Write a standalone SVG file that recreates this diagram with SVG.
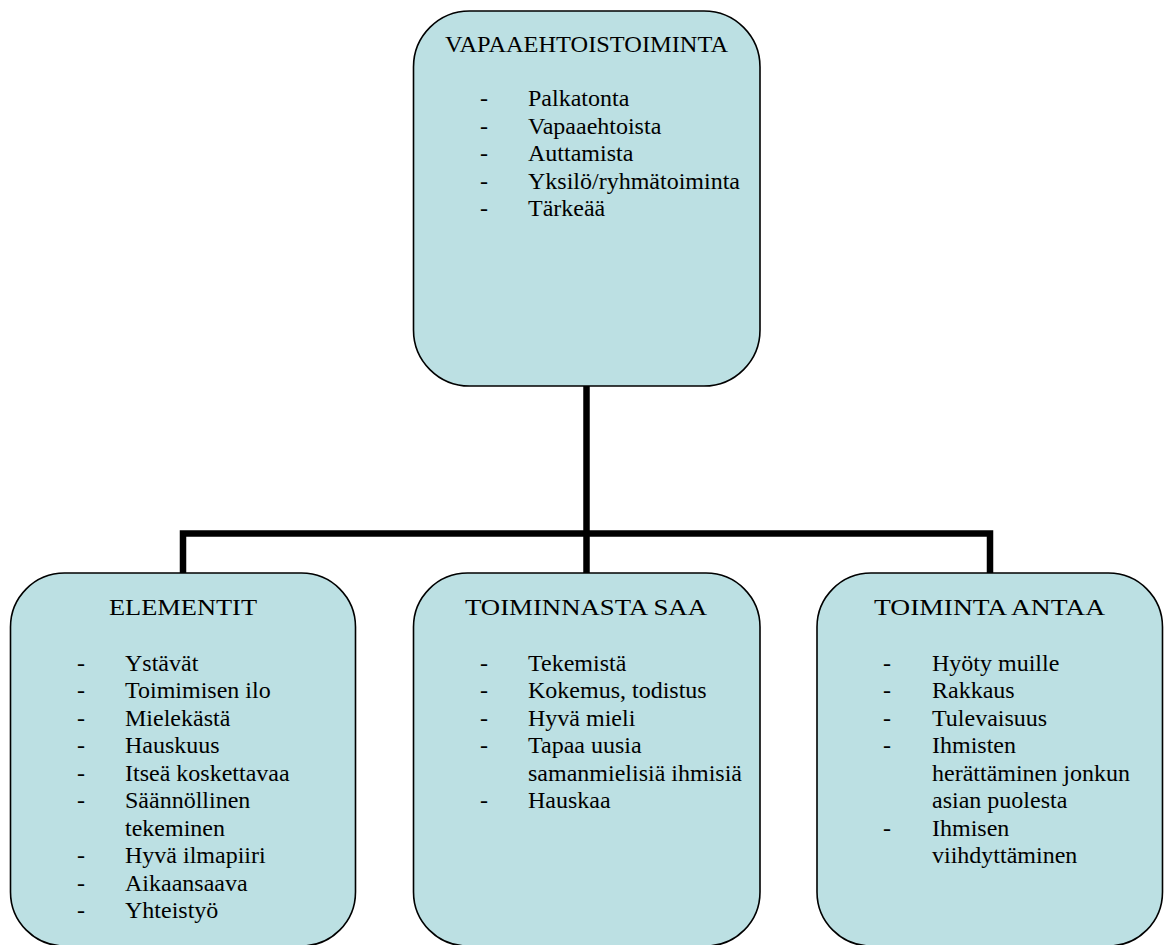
<svg xmlns="http://www.w3.org/2000/svg" width="1164" height="945" viewBox="0 0 1164 945">
<style>
.box{fill:#BCE0E3;stroke:#000;stroke-width:1.6}
.conn{fill:none;stroke:#000;stroke-width:6.5;stroke-linejoin:miter;stroke-linecap:butt}
.t{font-family:'Liberation Serif','DejaVu Serif','Times New Roman',serif;font-size:24px;fill:#000}
</style>
<rect width="1164" height="945" fill="#fff"/>
<g id="connectors">
<path class="conn" d="M586.5,386 V573"/>
<path class="conn" d="M183,573 V533.5 H990 V573"/>
</g>
<g id="node-vapaaehtoistoiminta" class="t" font-family="Liberation Serif, DejaVu Serif, serif">
<rect class="box" x="413.5" y="11" width="346.5" height="375" rx="56" ry="56"/>
<text x="445" y="52" textLength="283" lengthAdjust="spacingAndGlyphs">VAPAAEHTOISTOIMINTA</text>
<text x="480" y="106">-</text><text x="528" y="106">Palkatonta</text>
<text x="480" y="133.5">-</text><text x="528" y="133.5">Vapaaehtoista</text>
<text x="480" y="161">-</text><text x="528" y="161">Auttamista</text>
<text x="480" y="188.5">-</text><text x="528" y="188.5">Yksilö/ryhmätoiminta</text>
<text x="480" y="216">-</text><text x="528" y="216">Tärkeää</text>
</g>
<g id="node-elementit" class="t" font-family="Liberation Serif, DejaVu Serif, serif">
<rect class="box" x="10.5" y="573" width="345" height="373" rx="54" ry="54"/>
<text x="109" y="615" textLength="148" lengthAdjust="spacingAndGlyphs">ELEMENTIT</text>
<text x="77" y="670.7">-</text><text x="125" y="670.7">Ystävät</text>
<text x="77" y="698.2">-</text><text x="125" y="698.2">Toimimisen ilo</text>
<text x="77" y="725.7">-</text><text x="125" y="725.7">Mielekästä</text>
<text x="77" y="753.2">-</text><text x="125" y="753.2">Hauskuus</text>
<text x="77" y="780.7">-</text><text x="125" y="780.7">Itseä koskettavaa</text>
<text x="77" y="808.2">-</text><text x="125" y="808.2">Säännöllinen</text>
<text x="125" y="835.7">tekeminen</text>
<text x="77" y="863.2">-</text><text x="125" y="863.2">Hyvä ilmapiiri</text>
<text x="77" y="890.7">-</text><text x="125" y="890.7">Aikaansaava</text>
<text x="77" y="918.2">-</text><text x="125" y="918.2">Yhteistyö</text>
</g>
<g id="node-toiminnasta-saa" class="t" font-family="Liberation Serif, DejaVu Serif, serif">
<rect class="box" x="413.5" y="573" width="346.5" height="373" rx="54" ry="54"/>
<text x="465" y="615" textLength="242" lengthAdjust="spacingAndGlyphs">TOIMINNASTA SAA</text>
<text x="480" y="670.7">-</text><text x="528" y="670.7">Tekemistä</text>
<text x="480" y="698.2">-</text><text x="528" y="698.2">Kokemus, todistus</text>
<text x="480" y="725.7">-</text><text x="528" y="725.7">Hyvä mieli</text>
<text x="480" y="753.2">-</text><text x="528" y="753.2">Tapaa uusia</text>
<text x="528" y="780.7">samanmielisiä ihmisiä</text>
<text x="480" y="808.2">-</text><text x="528" y="808.2">Hauskaa</text>
</g>
<g id="node-toiminta-antaa" class="t" font-family="Liberation Serif, DejaVu Serif, serif">
<rect class="box" x="817" y="573" width="345.5" height="373" rx="54" ry="54"/>
<text x="874" y="615" textLength="231" lengthAdjust="spacingAndGlyphs">TOIMINTA ANTAA</text>
<text x="883" y="670.7">-</text><text x="932" y="670.7">Hyöty muille</text>
<text x="883" y="698.2">-</text><text x="932" y="698.2">Rakkaus</text>
<text x="883" y="725.7">-</text><text x="932" y="725.7">Tulevaisuus</text>
<text x="883" y="753.2">-</text><text x="932" y="753.2">Ihmisten</text>
<text x="932" y="780.7">herättäminen jonkun</text>
<text x="932" y="808.2">asian puolesta</text>
<text x="883" y="835.7">-</text><text x="932" y="835.7">Ihmisen</text>
<text x="932" y="863.2">viihdyttäminen</text>
</g>
</svg>
